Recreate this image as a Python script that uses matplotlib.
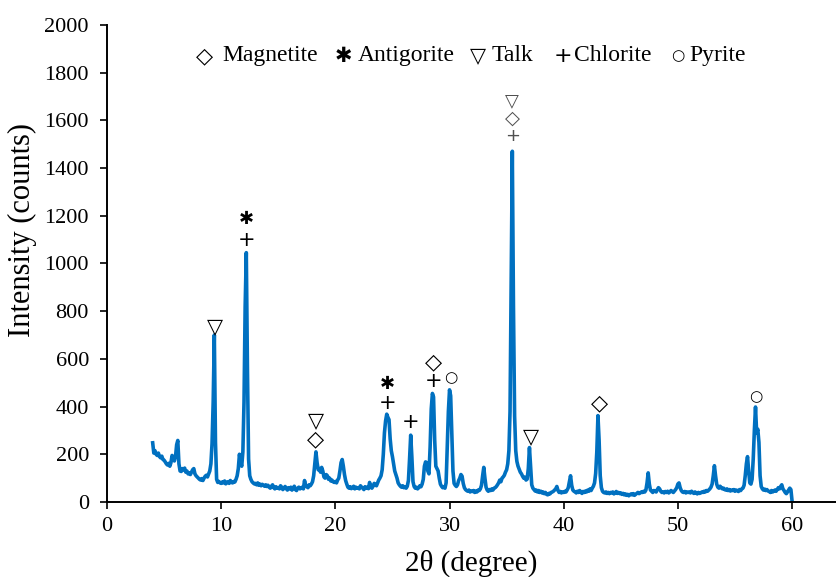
import numpy as np
import matplotlib.pyplot as plt

plt.rcParams['font.family'] = ['Liberation Serif', 'DejaVu Sans']

# XRD scan, 2theta from 4 to 60 deg in 0.1 deg steps (one row per degree)
two_theta = np.round(np.arange(4.0, 60.01, 0.1), 1)
counts = [
    248, 205, 215, 200, 195, 205, 190, 185, 192, 178,    # 4
    175, 168, 160, 155, 162, 150, 165, 195, 185, 172,    # 5
    190, 240, 258, 160, 130, 128, 140, 135, 142, 125,    # 6
    130, 118, 122, 115, 125, 135, 140, 118, 110, 105,    # 7
    100, 95, 92, 98, 90, 100, 108, 112, 105, 118,        # 8
    130, 160, 245, 420, 700, 250, 95, 82, 86, 80,        # 9
    78, 84, 80, 88, 76, 82, 85, 78, 90, 82,              # 10
    80, 86, 84, 95, 110, 140, 200, 165, 150, 210,        # 11
    420, 820, 1045, 560, 180, 110, 95, 85, 80, 76,       # 12
    78, 72, 80, 70, 75, 68, 74, 70, 66, 72,              # 13
    65, 70, 62, 58, 66, 72, 60, 55, 64, 58,              # 14
    60, 55, 68, 62, 52, 58, 65, 56, 50, 60,              # 15
    55, 62, 50, 58, 66, 52, 48, 58, 62, 55,              # 16
    58, 62, 55, 90, 70, 64, 60, 72, 68, 75,              # 17
    85, 110, 160, 210, 165, 135, 140, 125, 145, 130,     # 18
    105, 100, 115, 110, 95, 100, 88, 92, 85, 82,         # 19
    86, 80, 92, 100, 130, 165, 178, 150, 115, 90,        # 20
    75, 62, 58, 64, 56, 60, 66, 55, 62, 58,              # 21
    60, 55, 68, 62, 58, 52, 64, 58, 62, 56,              # 22
    82, 62, 58, 66, 78, 72, 68, 80, 92, 100,             # 23
    110, 135, 200, 290, 340, 368, 355, 345, 265, 215,    # 24
    190, 160, 130, 115, 100, 80, 72, 66, 62, 68,         # 25
    60, 64, 58, 66, 90, 180, 280, 190, 85, 65,           # 26
    58, 62, 55, 60, 68, 64, 75, 95, 150, 168,            # 27
    165, 130, 118, 230, 390, 455, 440, 260, 150, 140,    # 28
    130, 100, 75, 66, 60, 64, 58, 80, 230, 380,          # 29
    470, 445, 290, 130, 78, 70, 65, 72, 90, 100,         # 30
    115, 108, 78, 60, 52, 48, 45, 50, 42, 46,            # 31
    44, 48, 40, 46, 42, 50, 48, 55, 70, 110,             # 32
    145, 100, 62, 50, 45, 52, 48, 55, 50, 58,            # 33
    60, 65, 72, 80, 92, 85, 100, 105, 112, 125,          # 34
    135, 160, 215, 380, 900, 1470, 820, 360, 215, 170,   # 35
    150, 138, 125, 118, 108, 100, 104, 92, 96, 140,      # 36
    228, 150, 72, 58, 52, 46, 50, 42, 48, 40,            # 37
    45, 38, 42, 35, 40, 32, 30, 36, 34, 40,              # 38
    42, 45, 50, 55, 65, 48, 40, 44, 38, 42,              # 39
    40, 45, 42, 50, 60, 85, 110, 70, 50, 45,             # 40
    42, 38, 45, 40, 48, 42, 36, 44, 40, 46,              # 41
    42, 50, 45, 55, 48, 58, 66, 80, 120, 210,            # 42
    362, 260, 110, 60, 45, 40, 38, 42, 36, 40,           # 43
    35, 40, 38, 42, 34, 38, 44, 36, 40, 35,              # 44
    38, 32, 36, 30, 34, 28, 32, 26, 30, 34,              # 45
    30, 35, 28, 32, 36, 40, 35, 38, 42, 40,              # 46
    45, 42, 50, 80, 122, 75, 50, 45, 40, 48,             # 47
    45, 42, 52, 60, 55, 45, 40, 42, 38, 44,              # 48
    40, 45, 38, 42, 48, 44, 40, 46, 52, 60,              # 49
    75, 80, 60, 48, 42, 40, 44, 38, 42, 40,              # 50
    42, 38, 45, 40, 36, 42, 38, 34, 40, 36,              # 51
    38, 42, 40, 45, 42, 48, 45, 50, 55, 62,              # 52
    75, 110, 152, 110, 75, 62, 58, 66, 60, 55,           # 53
    58, 52, 50, 55, 48, 52, 46, 50, 48, 52,              # 54
    45, 50, 48, 44, 52, 48, 55, 58, 70, 110,             # 55
    160, 190, 130, 80, 75, 95, 180, 300, 398, 290,       # 56
    305, 250, 110, 65, 55, 50, 54, 48, 52, 46,           # 57
    44, 40, 48, 42, 46, 50, 45, 52, 60, 55,              # 58
    65, 72, 55, 48, 40, 35, 42, 50, 58, 52,              # 59
    5,                                                   # 60
]

# phase symbols placed over the peaks: (2theta, height, symbol)
sym_magnetite = '\u25C7'
sym_antigorite = '\u2731'
sym_talk = '\u25BD'
sym_chlorite = '+'
sym_pyrite = '\u25CB'

phase_names = ['Magnetite', 'Antigorite', 'Talk', 'Chlorite', 'Pyrite']
phase_syms = [sym_magnetite, sym_antigorite, sym_talk, sym_chlorite, sym_pyrite]
sym_size = {sym_magnetite: 16, sym_antigorite: 13, sym_talk: 15, sym_chlorite: 15, sym_pyrite: 11}
key_size = {sym_magnetite: 16, sym_antigorite: 15, sym_talk: 15, sym_chlorite: 16, sym_pyrite: 11}

peak_marks = [
    (9.45, 735, sym_talk),
    (12.2, 1185, sym_antigorite), (12.2, 1098, sym_chlorite),
    (18.3, 340, sym_talk), (18.3, 262, sym_magnetite),
    (24.6, 495, sym_antigorite), (24.6, 416, sym_chlorite),
    (26.6, 335, sym_chlorite),
    (28.6, 587, sym_magnetite), (28.6, 509, sym_chlorite),
    (30.1, 520, sym_pyrite),
    (37.1, 272, sym_talk),
    (43.1, 415, sym_magnetite),
    (56.8, 440, sym_pyrite),
]
# stacked marks over the strongest reflection, drawn grey
top_marks = [(35.5, 1678, sym_talk), (35.5, 1607, sym_magnetite), (35.5, 1535, sym_chlorite)]
top_size = {sym_talk: 13, sym_magnetite: 14, sym_chlorite: 13}

fig = plt.figure(figsize=(8.36, 5.77), dpi=100)
ax = fig.add_axes([0.128, 0.130, 0.872, 0.827])

ax.plot(two_theta, counts, color='#0070C0', lw=2.6, solid_joinstyle='round')

sym_fonts = ['DejaVu Sans']
for x, y, s in peak_marks:
    ax.text(x, y, s, ha='center', va='center', fontsize=sym_size[s], family=sym_fonts, color='black')
for x, y, s in top_marks:
    ax.text(x, y, s, ha='center', va='center', fontsize=top_size[s], family=sym_fonts, color='#505050')

# key line across the top of the plot: symbol centre and word start in axes fraction
key_sym_x = [0.1344, 0.3237, 0.5089, 0.6255, 0.7833]
key_word_x = [0.1578, 0.3443, 0.5281, 0.6406, 0.7984]
key_y = 0.935
for sx, wx, s, name in zip(key_sym_x, key_word_x, phase_syms, phase_names):
    ax.text(sx, key_y, s, transform=ax.transAxes, ha='center', va='center',
            fontsize=key_size[s], family=sym_fonts)
    ax.text(wx, key_y, name, transform=ax.transAxes, ha='left', va='center', fontsize=17)

ax.set_xlim(0, 63.85)
ax.set_ylim(0, 2000)
ax.set_xticks(np.arange(0, 61, 10))
ax.set_yticks(np.arange(0, 2001, 200))
ax.tick_params(direction='out', length=5, width=1.2, labelsize=16, pad=6)
ax.tick_params(axis='y', pad=8)
for side in ['top', 'right']:
    ax.spines[side].set_visible(False)
for side in ['left', 'bottom']:
    ax.spines[side].set_linewidth(1.4)

ax.set_xlabel('2\u03b8 (degree)', fontsize=21, labelpad=10)
ax.set_ylabel('Intensity (counts)', fontsize=22)
ax.yaxis.set_label_coords(-0.096, 0.57)

fig.savefig('out.png', dpi=100)
